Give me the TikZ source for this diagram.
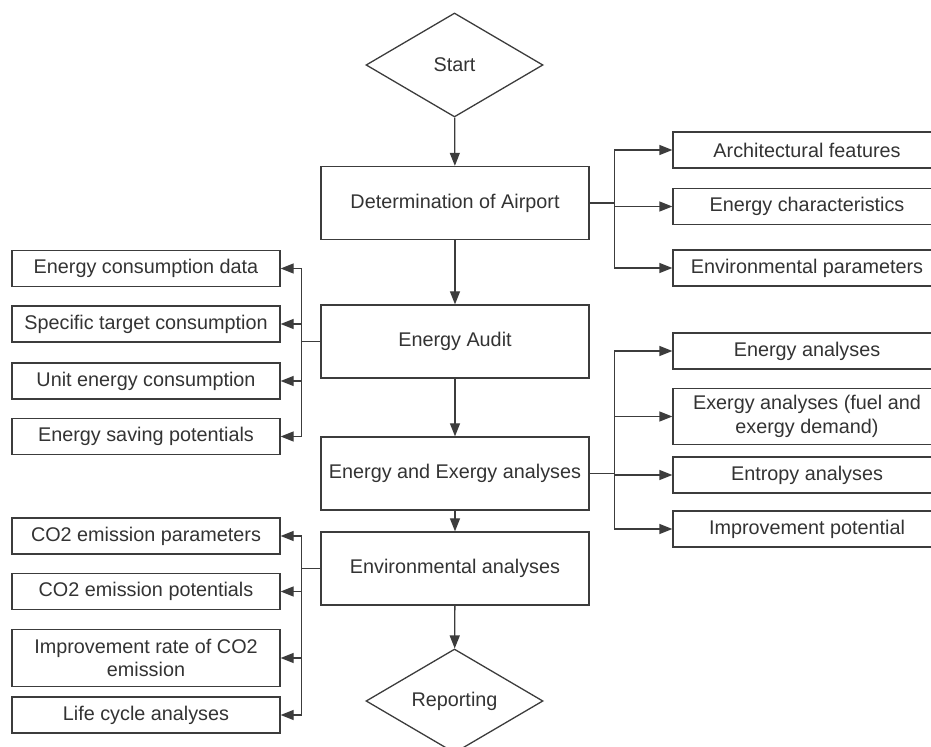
\documentclass[tikz,border=0pt]{standalone}
\usepackage{fontspec}
\setmainfont{Liberation Sans}
\usetikzlibrary{arrows.meta,positioning,shapes.geometric}
\definecolor{linegray}{HTML}{3C3C3C}
\definecolor{textgray}{HTML}{333333}

\begin{document}
\begin{tikzpicture}[x=0.5pt, y=-0.5pt,
  font=\fontsize{9.9}{11.8}\selectfont, text=textgray,
  mainbox/.style={draw=linegray, line width=0.65pt, rectangle, inner sep=0pt,
    minimum width=134pt, minimum height=36.5pt},
  sidebox/.style={draw=linegray, line width=0.65pt, rectangle, inner sep=0pt,
    minimum width=134pt, minimum height=18pt, align=center},
  tallbox/.style={sidebox, minimum height=28.3pt},
  decision/.style={draw=linegray, line width=0.65pt, diamond, inner sep=0pt,
    shape aspect=1.7, minimum width=88.5pt, minimum height=52pt},
  flow/.style={draw=linegray, line width=0.65pt, -{Triangle[length=6.5pt, width=5pt]}},
  link/.style={draw=linegray, line width=0.65pt}]
  \useasboundingbox (0,0) rectangle (931,747);

  % main column
  \node[decision] (start) at (454.5,65) {Start};
  \node[mainbox] (airport) at (455,203) {Determination of Airport};
  \node[mainbox] (audit) at (455,341.5) {Energy Audit};
  \node[mainbox] (exergy) at (455,473.5) {Energy and Exergy analyses};
  \node[mainbox] (environ) at (455,568.5) {Environmental analyses};
  \node[decision] (report) at (454.5,701) {Reporting};

  % right branches
  \node[sidebox] (arch) at (807,150) {Architectural features};
  \node[sidebox] (echar) at (807,206.5) {Energy characteristics};
  \node[sidebox] (envpar) at (807,268) {Environmental parameters};
  \node[sidebox] (enan) at (807,351) {Energy analyses};
  \node[tallbox] (exan) at (807,416.5) {Exergy analyses (fuel and\\exergy demand)};
  \node[sidebox] (entan) at (807,475) {Entropy analyses};
  \node[sidebox] (imppot) at (807,529) {Improvement potential};

  % left branches
  \node[sidebox] (ecdata) at (146,268.5) {Energy consumption data};
  \node[sidebox] (stcons) at (146,324) {Specific target consumption};
  \node[sidebox] (uecons) at (146,381) {Unit energy consumption};
  \node[sidebox] (espot) at (146,436.5) {Energy saving potentials};
  \node[sidebox] (coparam) at (146,536) {CO2 emission parameters};
  \node[sidebox] (copot) at (146,591.5) {CO2 emission potentials};
  \node[tallbox] (corate) at (146,658) {Improvement rate of CO2\\emission};
  \node[sidebox] (lcan) at (146,715) {Life cycle analyses};

  \draw[flow] (start) -- (airport);
  \draw[flow] (airport) -- (audit);
  \draw[flow] (audit) -- (exergy);
  \draw[flow] (exergy) -- (environ);
  \draw[flow] (environ) -- (report);

  \draw[link] (airport.east) -- ++(25,0) coordinate (rbusa);
  \foreach \n in {arch,echar,envpar}
    \draw[flow] (rbusa) |- (\n.west);
  \draw[link] (exergy.east) -- ++(25,0) coordinate (rbusb);
  \foreach \n in {enan,exan,entan,imppot}
    \draw[flow] (rbusb) |- (\n.west);

  \draw[link] (audit.west) -- ++(-19,0) coordinate (lbusa);
  \foreach \n in {ecdata,stcons,uecons,espot}
    \draw[flow] (lbusa) |- (\n.east);
  \draw[link] (environ.west) -- ++(-19,0) coordinate (lbusb);
  \foreach \n in {coparam,copot,corate,lcan}
    \draw[flow] (lbusb) |- (\n.east);
\end{tikzpicture}
\end{document}
